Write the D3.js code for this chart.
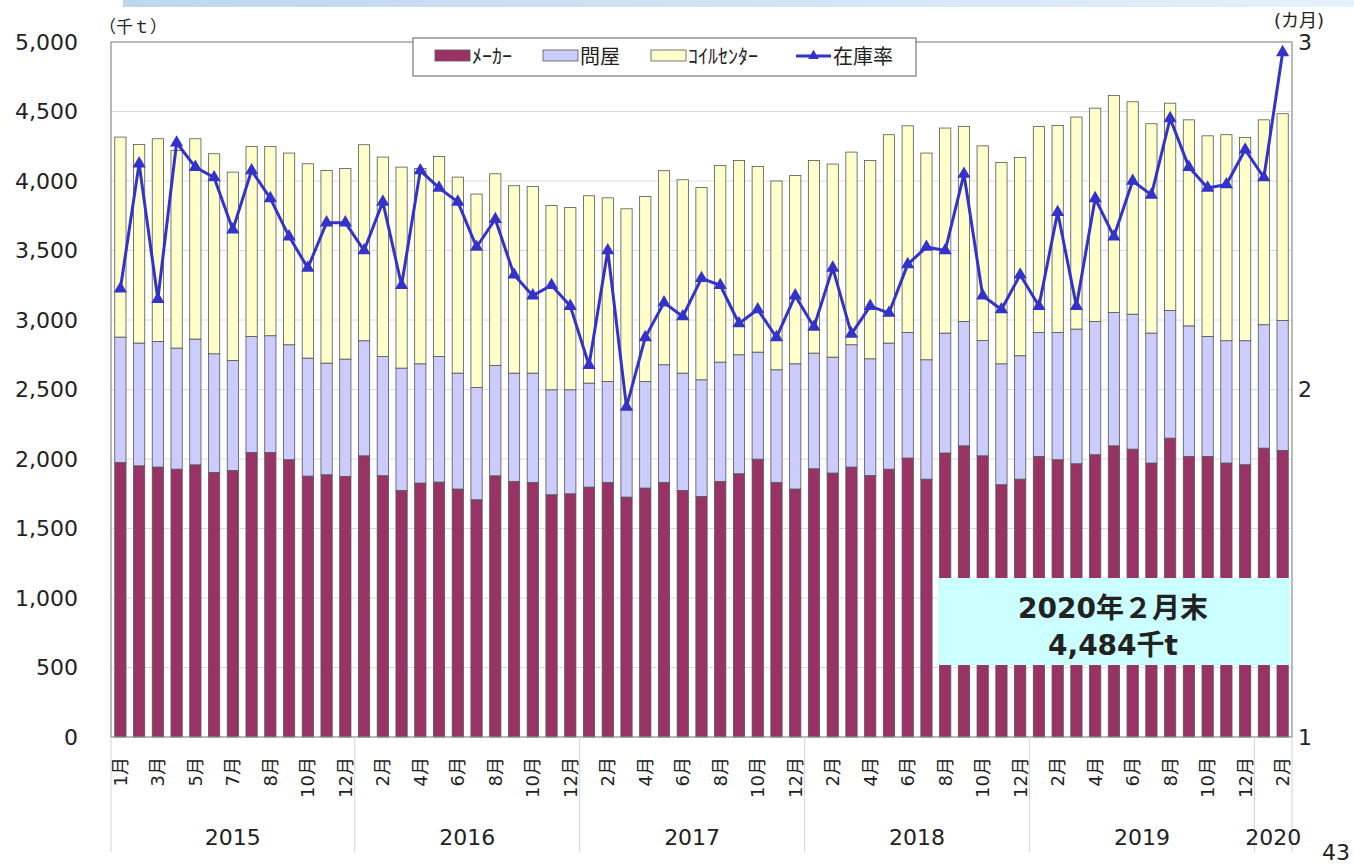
<!DOCTYPE html>
<html>
<head>
<meta charset="utf-8">
<script src="https://cdn.jsdelivr.net/npm/d3@7"></script>
<style>
  body { margin: 0; background: #fff; }
  text { font-family: "DejaVu Sans", "Noto Sans CJK JP", sans-serif; fill: #222; }
</style>
</head>
<body>
<svg id="chart"></svg>
<script>
// month tick labels (only every other bar is labelled in the original)
const monthLabels = [
  "1月","","3月","","5月","","7月","","8月","","10月","","12月",
  "","2月","","4月","","6月","","8月","","10月","","12月",
  "","2月","","4月","","6月","","8月","","10月","","12月",
  "","2月","","4月","","6月","","8月","","10月","","12月",
  "","2月","","4月","","6月","","8月","","10月","","12月",
  "","2月"
];
const years = ["2015", "2016", "2017", "2018", "2019", "2020"];
const yearBars = [13, 12, 12, 12, 12, 2];

// 千t
const maker = [
  1975,1951,1942,1927,1958,1903,1918,2047,2047,1995,1877,1887,1875,
  2023,1880,1774,1827,1834,1784,1707,1879,1839,1832,1743,1750,
  1798,1832,1726,1791,1832,1774,1731,1839,1894,1999,1832,1784,
  1930,1899,1942,1882,1927,2007,1855,2043,2095,2023,1815,1855,
  2019,1995,1966,2031,2095,2071,1971,2150,2019,2019,1971,1959,
  2078,2062
];
const wholesale = [
  902,883,904,871,905,854,791,835,840,827,849,803,844,
  828,858,880,858,904,834,808,794,779,786,755,748,
  748,726,634,767,846,844,839,858,856,770,810,901,
  832,834,880,839,907,904,859,863,895,830,870,888,
  892,916,969,959,959,971,935,919,939,863,880,892,
  888,935
];
const coil = [
  1439,1429,1458,1422,1441,1439,1355,1367,1362,1379,1398,1386,1371,
  1410,1434,1446,1405,1439,1410,1391,1379,1348,1343,1326,1312,
  1348,1321,1440,1331,1396,1391,1384,1415,1398,1336,1358,1355,
  1386,1389,1386,1427,1499,1486,1487,1475,1403,1400,1449,1427,
  1482,1489,1525,1534,1562,1528,1506,1491,1482,1443,1482,1462,
  1474,1487
];
// カ月
const ratio = [
  2.29,2.65,2.26,2.71,2.64,2.61,2.46,2.63,2.55,2.44,2.35,2.48,2.48,
  2.40,2.54,2.30,2.63,2.58,2.54,2.41,2.49,2.33,2.27,2.30,2.24,
  2.07,2.40,1.95,2.15,2.25,2.21,2.32,2.30,2.19,2.23,2.15,2.27,
  2.18,2.35,2.16,2.24,2.22,2.36,2.41,2.40,2.62,2.27,2.23,2.33,
  2.24,2.51,2.24,2.55,2.44,2.60,2.56,2.78,2.64,2.58,2.59,2.69,
  2.61,2.97
];
const leftTicks = [0, 500, 1000, 1500, 2000, 2500, 3000, 3500, 4000, 4500, 5000];
const rightTicks = [1, 2, 3];
const seriesNames = ["ﾒｰｶｰ", "問屋", "ｺｲﾙｾﾝﾀｰ", "在庫率"];
const colors = ["#993366", "#ccccff", "#ffffcc", "#3333cc"];

const W = 1354, H = 866;
const plotL = 111, plotR = 1292, plotT = 42, plotB = 737;

const svg = d3.select("#chart").attr("width", W).attr("height", H);

// slide header remnant
const grad = svg.append("defs").append("linearGradient").attr("id", "hdr");
grad.append("stop").attr("offset", "0%").attr("stop-color", "#bcd7f0");
grad.append("stop").attr("offset", "100%").attr("stop-color", "#e6f1fb");
svg.append("rect").attr("x", 123).attr("y", 0).attr("width", W - 123).attr("height", 7)
  .attr("fill", "url(#hdr)");

const x = d3.scaleBand().domain(d3.range(maker.length)).range([plotL, plotR])
  .paddingInner(0.4).paddingOuter(0.2);
const y = d3.scaleLinear().domain([0, 5000]).range([plotB, plotT]);
const y2 = d3.scaleLinear().domain([1, 3]).range([plotB, plotT]);

// gridlines
svg.append("g").selectAll("line").data(leftTicks.filter(d => d > 0 && d < 5000))
  .enter().append("line")
  .attr("x1", plotL).attr("x2", plotR)
  .attr("y1", d => y(d)).attr("y2", d => y(d))
  .attr("stroke", "#dcdcdc").attr("stroke-width", 1);

// stacked bars
const table = maker.map((m, i) => ({ i: i, maker: m, wholesale: wholesale[i], coil: coil[i] }));
const stack = d3.stack().keys(["maker", "wholesale", "coil"])(table);
svg.append("g").selectAll("g").data(stack).enter().append("g")
  .attr("fill", (d, k) => colors[k])
  .selectAll("rect").data(d => d).enter().append("rect")
  .attr("x", d => x(d.data.i))
  .attr("width", x.bandwidth())
  .attr("y", d => y(d[1]))
  .attr("height", d => y(d[0]) - y(d[1]))
  .attr("stroke", "#555").attr("stroke-width", 0.8);

// plot frame
svg.append("rect").attr("x", plotL).attr("y", plotT)
  .attr("width", plotR - plotL).attr("height", plotB - plotT)
  .attr("fill", "none").attr("stroke", "#8c8c8c").attr("stroke-width", 1.2);

// inventory ratio line
const line = d3.line().x((d, i) => x(i) + x.bandwidth() / 2).y(d => y2(d));
svg.append("path").datum(ratio).attr("d", line)
  .attr("fill", "none").attr("stroke", colors[3]).attr("stroke-width", 3)
  .attr("stroke-linejoin", "round");
svg.append("g").selectAll("path").data(ratio).enter().append("path")
  .attr("d", d3.symbol(d3.symbolTriangle, 75))
  .attr("transform", (d, i) => `translate(${x(i) + x.bandwidth() / 2},${y2(d)})`)
  .attr("fill", colors[3]);

// left axis
const yAxis = svg.append("g").attr("transform", `translate(${plotL},0)`)
  .call(d3.axisLeft(y).tickValues(leftTicks).tickSize(0).tickPadding(33)
    .tickFormat(d3.format(",")));
yAxis.select(".domain").remove();
yAxis.selectAll("text").style("font-size", "22px").attr("fill", "#222");

// right axis
const y2Axis = svg.append("g").attr("transform", `translate(${plotR},0)`)
  .call(d3.axisRight(y2).tickValues(rightTicks).tickSize(0).tickPadding(6)
    .tickFormat(d3.format("d")));
y2Axis.select(".domain").remove();
y2Axis.selectAll("text").style("font-size", "22px").attr("fill", "#222");

svg.append("text").attr("x", 99).attr("y", 33).style("font-size", "17px")
  .attr("font-family", "Noto Sans CJK JP").text("（千ｔ）");
svg.append("text").attr("x", 1274).attr("y", 27).style("font-size", "18px")
  .attr("font-family", "Noto Sans CJK JP").text("(カ月)");

// month labels
svg.append("g").selectAll("text").data(monthLabels).enter().append("text")
  .attr("transform", (d, i) => `translate(${x(i) + x.bandwidth() / 2},757) rotate(-90)`)
  .attr("text-anchor", "end").attr("dy", "0.36em")
  .style("font-size", "18px").text(d => d);

// year groups
const step = x.step();
let start = 0;
const yearPos = years.map((yr, k) => {
  const s = start;
  start += yearBars[k];
  return { name: yr, x0: plotL + s * step, x1: plotL + start * step };
});
const bounds = [plotL].concat(yearPos.map(d => d.x1));
svg.append("g").selectAll("line").data(bounds).enter().append("line")
  .attr("x1", d => d).attr("x2", d => d)
  .attr("y1", plotB).attr("y2", 852)
  .attr("stroke", "#d4d4d4").attr("stroke-width", 1);
svg.append("g").selectAll("text").data(yearPos).enter().append("text")
  .attr("x", d => (d.x0 + d.x1) / 2).attr("y", 845)
  .attr("text-anchor", "middle").style("font-size", "22px").text(d => d.name);

// legend
const lg = svg.append("g");
lg.append("rect").attr("x", 413).attr("y", 38).attr("width", 503).attr("height", 38)
  .attr("fill", "#fff").attr("stroke", "#777").attr("stroke-width", 1.2);
const legendX = [435, 543, 651, 796];
seriesNames.forEach((name, k) => {
  if (k < 3) {
    lg.append("rect").attr("x", legendX[k]).attr("y", 50).attr("width", 35).attr("height", 11)
      .attr("fill", colors[k]).attr("stroke", "#555").attr("stroke-width", 0.8);
  } else {
    lg.append("line").attr("x1", legendX[k]).attr("x2", legendX[k] + 35)
      .attr("y1", 56).attr("y2", 56).attr("stroke", colors[k]).attr("stroke-width", 3);
    lg.append("path").attr("d", d3.symbol(d3.symbolTriangle, 50))
      .attr("transform", `translate(${legendX[k] + 17.5},56)`).attr("fill", colors[k]);
  }
  lg.append("text").attr("x", legendX[k] + 37).attr("y", 64)
    .attr("font-family", "Noto Sans CJK JP").style("font-size", "20px").text(name);
});

// annotation box
svg.append("rect").attr("x", 938).attr("y", 578).attr("width", 352).attr("height", 87)
  .attr("fill", "#ccffff");
svg.append("text").attr("x", 1113).attr("y", 618).attr("text-anchor", "middle")
  .style("font-size", "28px").style("font-weight", "bold").text("2020年２月末");
svg.append("text").attr("x", 1113).attr("y", 655).attr("text-anchor", "middle")
  .style("font-size", "28px").style("font-weight", "bold").text("4,484千t");

// page number
svg.append("text").attr("x", 1322).attr("y", 860).style("font-size", "22px").text("43");
</script>
</body>
</html>
